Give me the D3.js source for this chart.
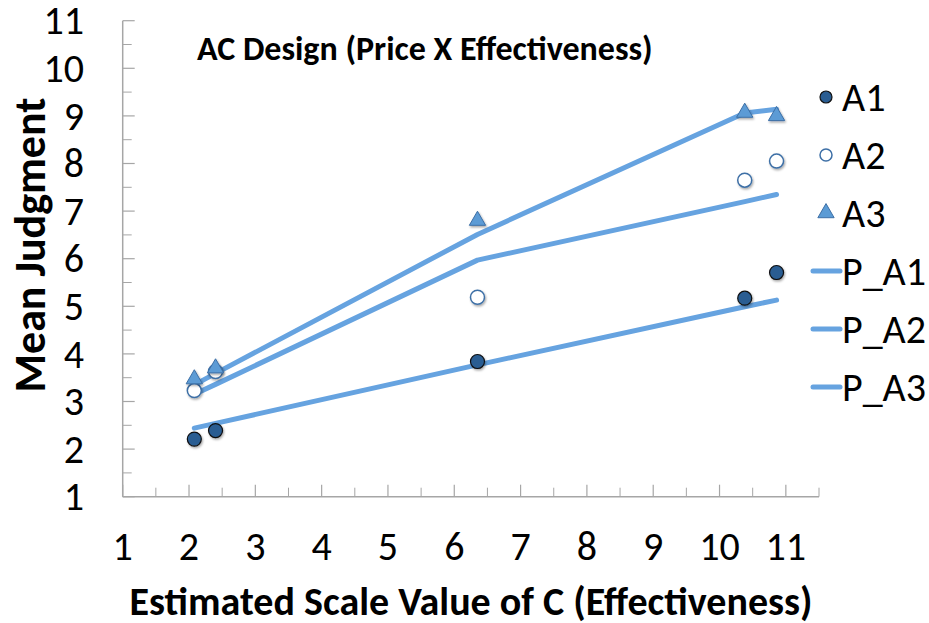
<!DOCTYPE html>
<html><head><meta charset="utf-8">
<script src="https://cdn.jsdelivr.net/npm/d3@7"></script>
<style>
html,body{margin:0;padding:0;background:#fff;}
svg{display:block;}
text{font-family:Carlito,Lato,"Open Sans",sans-serif;fill:#000;}
</style></head>
<body><svg id="chart" width="929" height="623"></svg>
<script>
const xValues = [2.08, 2.40, 6.35, 10.38, 10.86];
const A1 = [2.21, 2.39, 3.84, 5.17, 5.71];
const A2 = [3.23, 3.63, 5.19, 7.65, 8.05];
const A3 = [3.47, 3.70, 6.80, 9.07, 9.00];
const P_A1 = [2.44, 2.54, 3.77, 4.99, 5.13];
const P_A2 = [3.15, 3.36, 5.97, 7.20, 7.35];
const P_A3 = [3.35, 3.59, 6.51, 9.06, 9.14];
const xTicks = [1,2,3,4,5,6,7,8,9,10,11];
const yTicks = [1,2,3,4,5,6,7,8,9,10,11];
const title = "AC Design (Price X Effectiveness)";
const xTitle = "Estimated Scale Value of C (Effectiveness)";
const yTitle = "Mean Judgment";

const svg = d3.select("#chart");
const x = d3.scaleLinear().domain([1, 11.5]).range([122.7, 819]);
const y = d3.scaleLinear().domain([1, 11]).range([496.7, 20.7]);

const defs = svg.append("defs");
const f = defs.append("filter").attr("id","sh").attr("x","-50%").attr("y","-50%").attr("width","200%").attr("height","200%");
f.append("feDropShadow").attr("dx",1).attr("dy",1.5).attr("stdDeviation",1.2).attr("flood-color","#000").attr("flood-opacity",0.35);

const axisColor = "#a6a6a6";
const xMinor = d3.range(1.5, 11.51, 1);
const yMinor = d3.range(1.5, 11, 1);
const g = svg.append("g");
g.selectAll(".xmaj").data(xTicks).join("line")
  .attr("x1", d=>x(d)).attr("x2", d=>x(d)).attr("y1", y(1)).attr("y2", y(1)-12)
  .attr("stroke", axisColor).attr("stroke-width",1.2);
g.selectAll(".xmin").data(xMinor).join("line")
  .attr("x1", d=>x(d)).attr("x2", d=>x(d)).attr("y1", y(1)).attr("y2", y(1)-9)
  .attr("stroke", axisColor).attr("stroke-width",1);
g.selectAll(".ymaj").data(yTicks).join("line")
  .attr("y1", d=>y(d)).attr("y2", d=>y(d)).attr("x1", x(1)).attr("x2", x(1)+12)
  .attr("stroke", axisColor).attr("stroke-width",1.2);
g.selectAll(".ymin").data(yMinor).join("line")
  .attr("y1", d=>y(d)).attr("y2", d=>y(d)).attr("x1", x(1)).attr("x2", x(1)+9)
  .attr("stroke", axisColor).attr("stroke-width",1);
g.append("line").attr("x1",x(1)).attr("x2",x(11.5)).attr("y1",y(1)).attr("y2",y(1)).attr("stroke",axisColor).attr("stroke-width",1.5);
g.append("line").attr("x1",x(1)).attr("x2",x(1)).attr("y1",y(1)).attr("y2",y(11)).attr("stroke",axisColor).attr("stroke-width",1.5);

svg.selectAll(".xl").data(xTicks).join("text")
  .attr("x", d=>x(d)).attr("y", 560).attr("text-anchor","middle")
  .style("font-size","40px").text(d=>d);
svg.selectAll(".yl").data(yTicks).join("text")
  .attr("x", 84).attr("y", d=>y(d)).attr("dy","0.34em").attr("text-anchor","end")
  .style("font-size","40px").text(d=>d);

svg.append("text").attr("x",197).attr("y",60).style("font-size","34px").style("font-weight","bold").text(title);
svg.append("text").attr("x",471).attr("y",615).attr("text-anchor","middle").style("font-size","40px").style("font-weight","bold").text(xTitle);
svg.append("text").attr("transform","translate(45,245) rotate(-90)").attr("text-anchor","middle").style("font-size","44px").style("font-weight","bold").text(yTitle);

const lineColor = "#66a3e0";
const line = d3.line().x((d,i)=>x(xValues[i])).y(d=>y(d));
[P_A1, P_A2, P_A3].forEach(s=>{
  svg.append("path").datum(s).attr("d", line).attr("fill","none")
    .attr("stroke", lineColor).attr("stroke-width",5).attr("stroke-linejoin","round").attr("stroke-linecap","round");
});

const tri = d3.symbol().type(d3.symbolTriangle).size(115);
svg.append("g").selectAll("circle").data(A1).join("circle")
  .attr("cx",(d,i)=>x(xValues[i])).attr("cy",d=>y(d)).attr("r",7)
  .attr("fill","#2a5d92").attr("stroke","#111").attr("stroke-width",1.2).attr("filter","url(#sh)");
svg.append("g").selectAll("circle").data(A2).join("circle")
  .attr("cx",(d,i)=>x(xValues[i])).attr("cy",d=>y(d)).attr("r",7)
  .attr("fill","#fff").attr("stroke","#3d6fa6").attr("stroke-width",1.5).attr("filter","url(#sh)");
svg.append("g").selectAll("path").data(A3).join("path")
  .attr("transform",(d,i)=>`translate(${x(xValues[i])},${y(d)})`).attr("d",tri)
  .attr("fill","#5b9bd5").attr("stroke","#3d6fa6").attr("stroke-width",1).attr("filter","url(#sh)");

const legend = [
  {name:"A1", kind:"c1"},{name:"A2", kind:"c2"},{name:"A3", kind:"t"},
  {name:"P_A1", kind:"l"},{name:"P_A2", kind:"l"},{name:"P_A3", kind:"l"}];
const legY = d3.scalePoint().domain(legend.map(d=>d.name)).range([97, 387]);
const lg = svg.append("g");
legend.forEach(d=>{
  const yy = legY(d.name);
  if (d.kind==="c1") lg.append("circle").attr("cx",826).attr("cy",yy).attr("r",6).attr("fill","#2a5d92").attr("stroke","#111").attr("stroke-width",1.2);
  if (d.kind==="c2") lg.append("circle").attr("cx",826).attr("cy",yy).attr("r",6).attr("fill","#fff").attr("stroke","#3d6fa6").attr("stroke-width",1.5);
  if (d.kind==="t") lg.append("path").attr("transform",`translate(826,${yy})`).attr("d",tri).attr("fill","#5b9bd5").attr("stroke","#3d6fa6");
  if (d.kind==="l") lg.append("line").attr("x1",813).attr("x2",840).attr("y1",yy).attr("y2",yy).attr("stroke",lineColor).attr("stroke-width",5).attr("stroke-linecap","round");
  lg.append("text").attr("x",842).attr("y",yy).attr("dy","0.34em").style("font-size","40px").text(d.name);
});
</script></body></html>
